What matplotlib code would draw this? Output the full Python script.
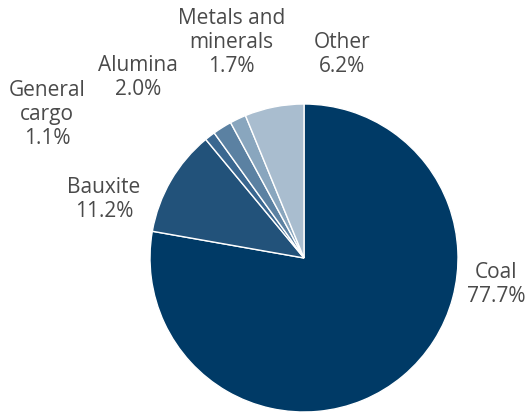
import matplotlib
matplotlib.use('Agg')
import matplotlib.pyplot as plt

# cargo mix, clockwise from 12 o'clock
categories = ["Coal", "Bauxite", "General\ncargo", "Alumina", "Metals and\nminerals", "Other"]
shares = [77.7, 11.2, 1.1, 2.0, 1.7, 6.2]
colors = ["#003a66", "#22527a", "#3a6790", "#5b81a2", "#89a6be", "#a9bdcf"]

# label centres in pie-radius units
label_pos = [(1.25, -0.17), (-1.30, 0.38), (-1.67, 0.93), (-1.08, 1.17), (-0.47, 1.40), (0.25, 1.32)]

W, H = 529, 412
cx, cy, r = 304, 258, 154
fig = plt.figure(figsize=(W / 100, H / 100), dpi=100)
ax = fig.add_axes([(cx - r) / W, (H - cy - r) / H, 2 * r / W, 2 * r / H])

ax.pie(shares, colors=colors, startangle=90, counterclock=False, radius=1,
       wedgeprops=dict(edgecolor="white", linewidth=1.0))
ax.set_xlim(-1, 1)
ax.set_ylim(-1, 1)
ax.set_aspect('auto')
ax.axis('off')

for name, val, (x, y) in zip(categories, shares, label_pos):
    ax.text(x, y, f"{name}\n{val:.1f}%", ha='center', va='center', fontsize=15,
            color="#4a4a4a", family="Open Sans", linespacing=1.18, clip_on=False)

fig.savefig("out.png", dpi=100)
